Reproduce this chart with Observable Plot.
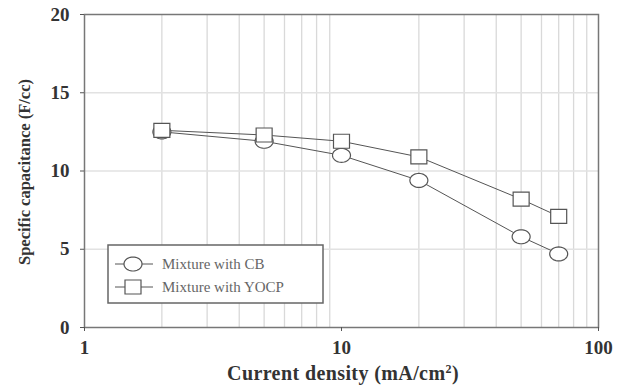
<!DOCTYPE html>
<html><head><meta charset="utf-8">
<script src="https://cdn.jsdelivr.net/npm/d3@7"></script>
<script src="https://cdn.jsdelivr.net/npm/@observablehq/plot@0.6"></script>
<style>body{margin:0;background:#fff;} svg{display:block;}</style>
</head><body><div id="chart"></div>
<script>
const currentDensity = [2, 5, 10, 20, 50, 70];
const capCB = [12.5, 11.9, 11.0, 9.4, 5.8, 4.7];
const capYOCP = [12.6, 12.3, 11.9, 10.9, 8.2, 7.1];
const seriesNames = ["Mixture with CB", "Mixture with YOCP"];
const xTicks = [1, 10, 100];
const yTicks = [0, 5, 10, 15, 20];
const xGrid = [2,3,4,5,6,7,8,9,20,30,40,50,60,70,80,90];
const yGrid = [5, 10, 15];

const ellipse = {draw(ctx){ const n=40; for(let i=0;i<=n;i++){const a=2*Math.PI*i/n; const px=9*Math.cos(a), py=7*Math.sin(a); i?ctx.lineTo(px,py):ctx.moveTo(px,py);} ctx.closePath(); }};
const box = {draw(ctx){ ctx.moveTo(-8,-7); ctx.lineTo(8,-7); ctx.lineTo(8,7); ctx.lineTo(-8,7); ctx.closePath(); }};

const rows = [];
currentDensity.forEach((x,i)=>{ rows.push({x, y: capCB[i], s: seriesNames[0]}); rows.push({x, y: capYOCP[i], s: seriesNames[1]}); });
const cbRows = rows.filter(d=>d.s===seriesNames[0]);
const yRows = rows.filter(d=>d.s===seriesNames[1]);

const font = "Liberation Serif, Times New Roman, serif";
const chart = Plot.plot({
  width: 619, height: 385,
  marginLeft: 84, marginRight: 21, marginTop: 14, marginBottom: 58,
  style: {fontFamily: font, fontSize: "19px", fontWeight: "bold", color: "#333", background: "#fff"},
  x: {type: "log", domain: [1, 100]},
  y: {domain: [0, 20]},
  marks: [
    Plot.ruleX(xGrid, {stroke: "#d9d9d9", strokeWidth: 1.3}),
    Plot.ruleY(yGrid, {stroke: "#e2e2e2", strokeWidth: 1.3}),
    Plot.frame({stroke: "#777", strokeWidth: 1.5}),
    Plot.axisX({ticks: xTicks, tickFormat: d => String(d), tickSize: 4, tickPadding: 9, stroke: "#555", label: null, fontSize: 19}),
    Plot.axisY({ticks: yTicks, tickSize: 4, tickPadding: 11, stroke: "#555", label: null, fontSize: 19}),
    Plot.line(cbRows, {x: "x", y: "y", stroke: "#555", strokeWidth: 1}),
    Plot.line(yRows, {x: "x", y: "y", stroke: "#555", strokeWidth: 1}),
    Plot.dot(cbRows, {x: "x", y: "y", symbol: ellipse, fill: "#fff", stroke: "#555", strokeWidth: 1.2}),
    Plot.dot(yRows, {x: "x", y: "y", symbol: box, fill: "#fff", stroke: "#555", strokeWidth: 1.2})
  ]
});
const svg = d3.select(chart);
// axis titles
svg.append("text").attr("x", 343).attr("y", 380).attr("text-anchor","middle")
  .attr("font-family", font).attr("font-weight","bold").attr("font-size", 20).attr("letter-spacing", 0.4).attr("fill","#333")
  .html('Current density (mA/cm<tspan dy="-7" font-size="12">2</tspan><tspan dy="7">)</tspan>');
svg.append("text").attr("transform","translate(30,172) rotate(-90)").attr("text-anchor","middle")
  .attr("font-family", font).attr("font-weight","bold").attr("font-size", 16.5).attr("fill","#333")
  .text("Specific capacitance (F/cc)");
// legend
const lg = svg.append("g").attr("font-weight","normal").attr("text-anchor","start");
lg.append("rect").attr("x",108).attr("y",245).attr("width",215).attr("height",58).attr("fill","#fff").attr("stroke","#666").attr("stroke-width",1.5);
const syms = [ellipse, box];
seriesNames.forEach((name,i)=>{
  const cy = 264 + i*23;
  lg.append("line").attr("x1",115).attr("x2",153).attr("y1",cy).attr("y2",cy).attr("stroke","#555");
  const p = d3.path(); syms[i].draw(p);
  lg.append("path").attr("d", p.toString()).attr("transform",`translate(133,${cy})`).attr("fill","#fff").attr("stroke","#555").attr("stroke-width",1.2);
  lg.append("text").attr("x",162).attr("y",cy+5).attr("font-family",font).attr("font-size",15).attr("fill","#666").text(name);
});
document.getElementById("chart").appendChild(chart);
</script></body></html>
